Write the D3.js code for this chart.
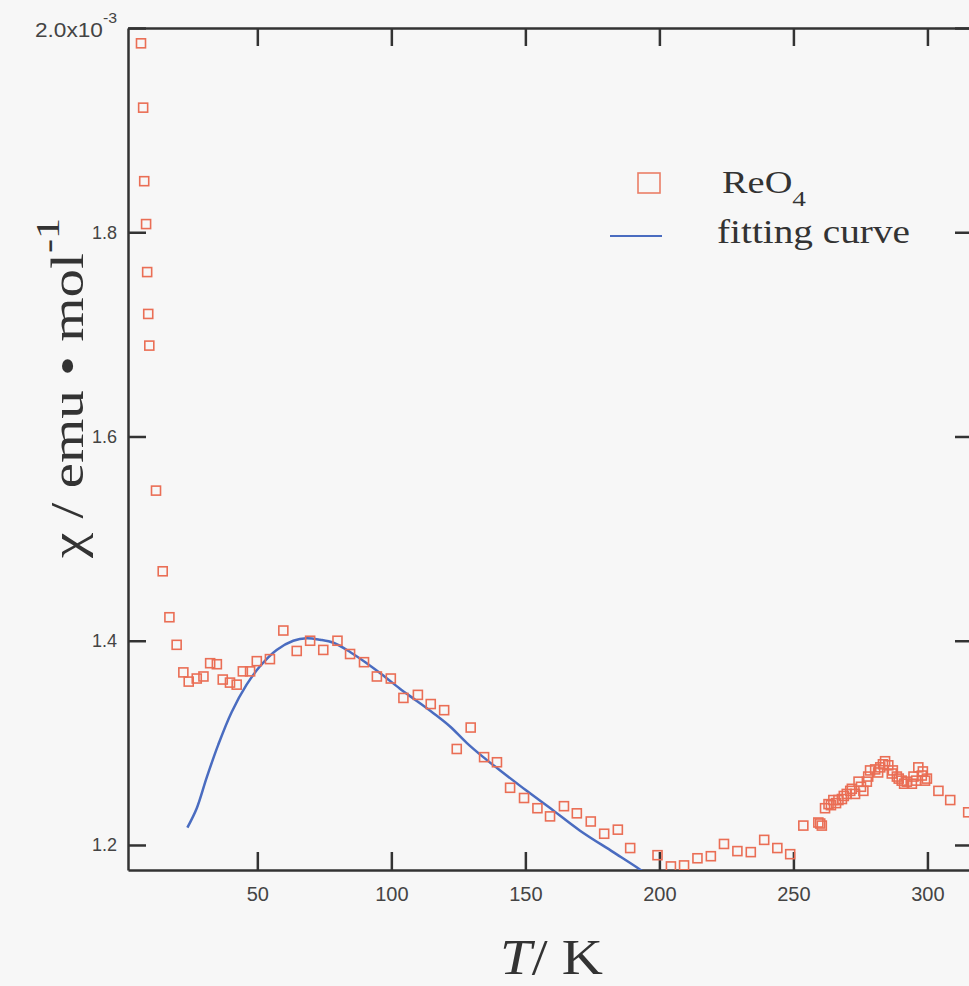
<!DOCTYPE html>
<html>
<head>
<meta charset="utf-8">
<script src="https://cdn.jsdelivr.net/npm/d3@7"></script>
<style>
  body { margin: 0; background: #f7f7f7; }
  svg { display: block; }
  .axis path, .axis line { stroke: #333; stroke-width: 2.5; }
  .axis text { font-family: "Liberation Sans", Arial, sans-serif; fill: #444; }
</style>
</head>
<body>
<svg width="969" height="986"></svg>
<script>
// measured data, chi in units of 1e-3 emu/mol
var temps = [6.6, 7.4, 7.8, 8.5, 8.9, 9.3, 9.7, 12.2, 14.7, 17.2, 19.9, 22.4, 24.4, 27.4, 29.9,
  32.4, 34.9, 37.1, 39.8, 42.3, 44.6, 47.3, 49.8, 54.7, 59.7, 64.7, 69.7, 74.6, 79.9, 84.6,
  89.8, 94.6, 99.8, 104.5, 109.9, 114.7, 119.7, 124.4, 129.6, 134.6, 139.4, 144.3, 149.5,
  154.5, 159.2, 164.4, 169.2, 174.4, 179.4, 184.5, 189.1, 199.3, 204.3, 209.2, 214.2, 219.2,
  224.1, 229.1, 234.1, 239.1, 244.0, 248.8, 253.7, 259.3, 260.0, 260.6, 261.8, 263.1, 264.0,
  264.9, 265.9, 266.8, 268.1, 268.8, 269.9, 271.2, 271.8, 273.0, 274.3, 275.2, 276.1, 277.4,
  277.9, 278.6, 280.5, 281.6, 282.4, 283.4, 284.2, 285.4, 286.7, 287.1, 288.6, 289.3, 290.4,
  291.3, 292.3, 294.2, 294.8, 295.8, 296.6, 297.9, 298.3, 299.1, 299.8, 304.1, 308.5, 315.2];
var chi = [1.985, 1.922, 1.850, 1.808, 1.761, 1.720, 1.689, 1.547, 1.468, 1.423, 1.396, 1.369,
  1.360, 1.363, 1.365, 1.378, 1.377, 1.362, 1.359, 1.357, 1.370, 1.370, 1.380, 1.382, 1.410,
  1.390, 1.400, 1.391, 1.400, 1.387, 1.379, 1.365, 1.363, 1.344, 1.347, 1.338, 1.332, 1.294,
  1.315, 1.286, 1.281, 1.256, 1.246, 1.236, 1.228, 1.238, 1.231, 1.223, 1.211, 1.215, 1.197,
  1.190, 1.179, 1.180, 1.187, 1.189, 1.201, 1.194, 1.193, 1.205, 1.197, 1.191, 1.219, 1.222,
  1.221, 1.219, 1.236, 1.240, 1.239, 1.244, 1.241, 1.244, 1.245, 1.248, 1.250, 1.253, 1.255,
  1.250, 1.262, 1.257, 1.253, 1.262, 1.267, 1.273, 1.274, 1.271, 1.276, 1.279, 1.282, 1.278,
  1.270, 1.273, 1.267, 1.265, 1.263, 1.260, 1.262, 1.260, 1.267, 1.263, 1.276, 1.268, 1.272,
  1.263, 1.265, 1.253, 1.244, 1.232];

// fitting curve
var fitT = [23.9, 27.4, 31.1, 35.4, 40.4, 46.0, 51.0, 57.2, 63.4, 68.4, 73.4, 78.4, 84.6, 90.8,
  97.0, 103.2, 109.5, 115.7, 121.9, 128.1, 134.3, 140.6, 150.5, 160.3, 170.4, 182.8, 192.2, 196];
var fitChi = [1.217, 1.236, 1.266, 1.298, 1.330, 1.357, 1.375, 1.391, 1.400, 1.4025, 1.401,
  1.398, 1.389, 1.378, 1.366, 1.353, 1.341, 1.329, 1.316, 1.300, 1.286, 1.273, 1.253, 1.234,
  1.214, 1.193, 1.177, 1.170];

var xTicks = [50, 100, 150, 200, 250, 300];
var yTicks = [1.2, 1.4, 1.6, 1.8, 2.0];

var svg = d3.select("svg");

var x = d3.scaleLinear().domain([1.75, 317]).range([128, 973]);
var y = d3.scaleLinear().domain([1.1755, 2.0]).range([870, 28]);

svg.append("clipPath").attr("id", "clip")
  .append("rect")
    .attr("x", 128).attr("y", 28)
    .attr("width", 845).attr("height", 842);

// axes, ticks pointing inward
svg.append("g")
    .attr("class", "axis")
    .attr("transform", "translate(0,870)")
    .call(d3.axisBottom(x).tickValues(xTicks).tickSizeInner(-18).tickSizeOuter(0).tickPadding(17))
    .selectAll("text").style("font-size", "20px");

svg.append("g")
    .attr("class", "axis")
    .attr("transform", "translate(0,28)")
    .call(d3.axisTop(x).tickValues(xTicks).tickSizeInner(-18).tickSizeOuter(0).tickFormat(""));

var yAxis = svg.append("g")
    .attr("class", "axis")
    .attr("transform", "translate(128,0)")
    .call(d3.axisLeft(y).tickValues(yTicks).tickSizeInner(-18).tickSizeOuter(0).tickPadding(11)
      .tickFormat(function(d) { return d === 2.0 ? "" : d3.format(".1f")(d); }));
yAxis.selectAll("text").style("font-size", "18px");

svg.append("g")
    .attr("class", "axis")
    .attr("transform", "translate(973,0)")
    .call(d3.axisRight(y).tickValues(yTicks).tickSizeInner(-18).tickSizeOuter(0).tickFormat(""));

// top-left exponent label
var expLabel = svg.append("text")
    .attr("x", 35).attr("y", 37)
    .attr("textLength", 82)
    .attr("lengthAdjust", "spacingAndGlyphs")
    .style("font-family", "Liberation Sans, Arial, sans-serif")
    .style("font-size", "20px")
    .style("fill", "#444");
expLabel.append("tspan").text("2.0x10");
expLabel.append("tspan").attr("dy", -14).style("font-size", "14px").text("-3");

// fitting curve
var line = d3.line()
    .x(function(d, i) { return x(fitT[i]); })
    .y(function(d, i) { return y(fitChi[i]); })
    .curve(d3.curveCatmullRom);

svg.append("path")
    .datum(fitT)
    .attr("clip-path", "url(#clip)")
    .attr("d", line)
    .style("fill", "none")
    .style("stroke", "#4a6cc0")
    .style("stroke-width", 2.5);

// data markers
svg.append("g").attr("clip-path", "url(#clip)")
  .selectAll(".dot")
    .data(temps)
  .enter().append("rect")
    .attr("class", "dot")
    .attr("x", function(d) { return x(d) - 4.5; })
    .attr("y", function(d, i) { return y(chi[i]) - 4.5; })
    .attr("width", 9)
    .attr("height", 9)
    .style("fill", "none")
    .style("stroke", "#ea6e55")
    .style("stroke-width", 1.6);

// legend
var legend = svg.append("g")
    .style("font-family", "Liberation Serif, Times New Roman, serif")
    .style("fill", "#333");

legend.append("rect")
    .attr("x", 638).attr("y", 173)
    .attr("width", 22).attr("height", 20)
    .style("fill", "none")
    .style("stroke", "#ea7e66")
    .style("stroke-width", 1.6);

var reo = legend.append("text")
    .attr("x", 722).attr("y", 193)
    .attr("textLength", 84)
    .attr("lengthAdjust", "spacingAndGlyphs")
    .style("font-size", "31px");
reo.append("tspan").text("ReO");
reo.append("tspan").attr("dy", 13).style("font-size", "22px").text("4");

legend.append("line")
    .attr("x1", 610).attr("x2", 662)
    .attr("y1", 236).attr("y2", 236)
    .style("stroke", "#4a6cc0")
    .style("stroke-width", 2);

legend.append("text")
    .attr("x", 717).attr("y", 243)
    .attr("textLength", 193)
    .attr("lengthAdjust", "spacingAndGlyphs")
    .style("font-size", "33px")
    .text("fitting curve");

// axis titles
var xt = svg.append("text")
    .attr("x", 500).attr("y", 974)
    .attr("textLength", 103)
    .attr("lengthAdjust", "spacingAndGlyphs")
    .style("font-family", "Liberation Serif, Times New Roman, serif")
    .style("font-size", "50px")
    .style("fill", "#333");
xt.append("tspan").style("font-style", "italic").text("T");
xt.append("tspan").text("/ K");

var yt = svg.append("text")
    .attr("transform", "translate(83,558) rotate(-90)")
    .attr("textLength", 340)
    .attr("lengthAdjust", "spacingAndGlyphs")
    .style("font-family", "Liberation Serif, Times New Roman, serif")
    .style("font-size", "46px")
    .style("fill", "#333");
yt.append("tspan").text("\u03c7 / emu \u2022 mol");
yt.append("tspan").attr("dy", -24).style("font-size", "34px").text("-1");
</script>
</body>
</html>
